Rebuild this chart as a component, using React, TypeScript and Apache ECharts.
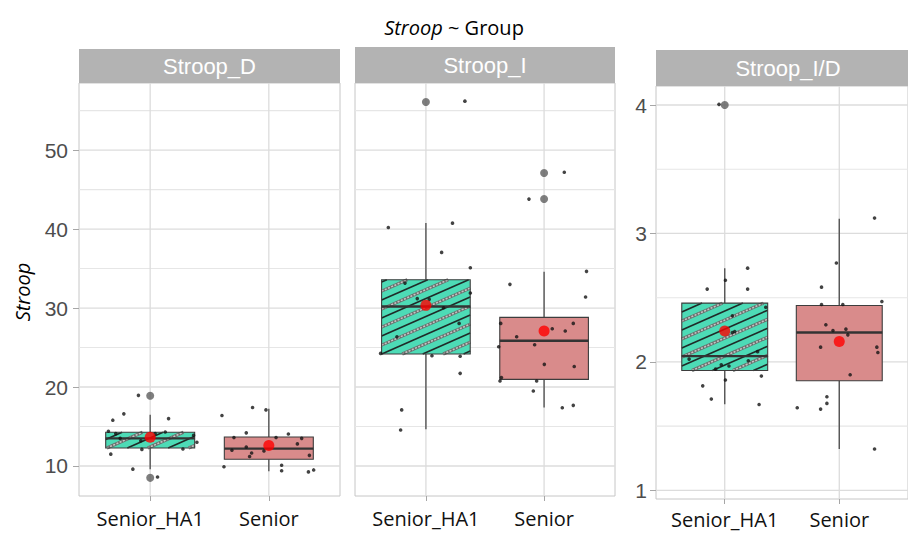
import React, { useEffect, useRef } from 'react';
import * as echarts from 'echarts';

const categories = ['Senior_HA1', 'Senior'];
const panelTitles = ['Stroop_D', 'Stroop_I', 'Stroop_I/D'];
const yAxisTitle = 'Stroop';
const plotTitleItalic = 'Stroop';
const plotTitleRest = ' ~ Group';

// box statistics: [lower whisker, Q1, median, Q3, upper whisker]
const boxStroopD_HA1 = [9.58, 12.28, 13.5, 14.27, 16.5];
const boxStroopD_Senior = [9.33, 10.85, 12.2, 13.67, 17.25];
const boxStroopI_HA1 = [14.65, 24.18, 30.2, 33.58, 40.76];
const boxStroopI_Senior = [17.42, 20.97, 25.86, 28.82, 34.6];
const boxStroopID_HA1 = [1.67, 1.933, 2.045, 2.458, 2.73];
const boxStroopID_Senior = [1.322, 1.853, 2.229, 2.439, 3.115];

// group means (red dots)
const meanStroopD = [13.63, 12.6];
const meanStroopI = [30.34, 27.1];
const meanStroopID = [2.24, 2.159];

// boxplot outliers
const outliersStroopD_HA1 = [18.9, 8.5];
const outliersStroopD_Senior: number[] = [];
const outliersStroopI_HA1 = [56.1];
const outliersStroopI_Senior = [47.1, 43.8];
const outliersStroopID_HA1 = [4.0];
const outliersStroopID_Senior: number[] = [];

// jittered observations: [horizontal jitter in category units, value]
const pointsStroopD_HA1 = [
  [-0.099, 18.95], [-0.222, 16.6], [-0.315, 15.8], [0.155, 16.0], [-0.352, 14.4],
  [-0.29, 14.1], [0.042, 14.1], [0.127, 14.3], [-0.079, 13.2], [0.394, 13.0],
  [-0.253, 13.5], [0.366, 13.9], [-0.07, 12.1], [0.276, 12.15], [-0.332, 11.5],
  [-0.146, 9.6], [0.062, 8.6],
];
const pointsStroopD_Senior = [
  [-0.137, 17.4], [-0.024, 17.1], [-0.395, 16.4], [-0.19, 14.2], [0.165, 14.05],
  [-0.294, 13.6], [0.061, 13.6], [0.277, 13.5], [0.241, 12.8], [-0.19, 12.4],
  [-0.311, 12.0], [-0.041, 11.9], [-0.145, 11.65], [-0.162, 11.2], [0.342, 11.35],
  [-0.378, 9.9], [0.108, 10.1], [0.108, 9.4], [0.334, 9.25], [0.378, 9.5],
];
const pointsStroopI_HA1 = [
  [0.33, 56.2], [0.225, 40.75], [-0.318, 40.2], [0.133, 37.05], [0.376, 35.1],
  [-0.177, 33.16], [-0.073, 31.2], [0.028, 31.1], [0.149, 30.04], [0.376, 31.9],
  [0.281, 28.06], [-0.245, 26.37], [-0.383, 24.26], [0.051, 23.96], [0.29, 23.9],
  [0.29, 21.73], [-0.205, 17.1], [-0.214, 14.56],
];
const pointsStroopI_Senior = [
  [0.171, 47.2], [-0.128, 43.8], [0.359, 34.65], [-0.289, 33.0], [0.351, 31.4],
  [-0.367, 28.06], [0.069, 27.38], [0.179, 27.1], [0.247, 28.06], [-0.232, 26.37],
  [-0.08, 25.35], [-0.384, 25.1], [0.002, 22.87], [0.255, 22.6], [-0.361, 21.2],
  [-0.373, 20.76], [-0.063, 20.76], [-0.091, 19.5], [0.154, 17.38], [0.247, 17.68],
];
const pointsStroopID_HA1 = [
  [-0.05, 4.005], [0.2, 2.73], [0.006, 2.636], [-0.153, 2.567], [0.2, 2.567],
  [0.358, 2.426], [0.067, 2.359], [0.067, 2.229], [0.087, 2.237], [-0.311, 2.022],
  [0.287, 2.08], [0.206, 2.009], [-0.08, 1.944], [-0.03, 1.978], [0.037, 1.968],
  [0.006, 1.859], [0.32, 1.89], [-0.192, 1.814], [-0.117, 1.711], [0.3, 1.669],
];
const pointsStroopID_Senior = [
  [0.308, 3.12], [-0.025, 2.77], [-0.155, 2.582], [-0.155, 2.447], [0.031, 2.447],
  [0.372, 2.47], [-0.117, 2.289], [-0.055, 2.245], [0.058, 2.255], [0.075, 2.211],
  [-0.163, 2.115], [0.328, 2.115], [0.337, 2.073], [0.095, 1.9], [-0.108, 1.729],
  [-0.108, 1.677], [-0.163, 1.633], [-0.367, 1.643], [0.308, 1.322],
];

// axis ticks
const ticksStroop = [10, 20, 30, 40, 50];
const minorTicksStroop = [15, 25, 35, 45, 55];
const ticksRatio = [1, 2, 3, 4];
const minorTicksRatio = [1.5, 2.5, 3.5];
const rangeStroop = [6.2, 58.5];
const rangeRatio = [0.933, 4.148];

const panels = [
  {
    boxes: [boxStroopD_HA1, boxStroopD_Senior], means: meanStroopD,
    outliers: [outliersStroopD_HA1, outliersStroopD_Senior],
    points: [pointsStroopD_HA1, pointsStroopD_Senior],
    ticks: ticksStroop, minor: minorTicksStroop, range: rangeStroop,
  },
  {
    boxes: [boxStroopI_HA1, boxStroopI_Senior], means: meanStroopI,
    outliers: [outliersStroopI_HA1, outliersStroopI_Senior],
    points: [pointsStroopI_HA1, pointsStroopI_Senior],
    ticks: ticksStroop, minor: minorTicksStroop, range: rangeStroop,
  },
  {
    boxes: [boxStroopID_HA1, boxStroopID_Senior], means: meanStroopID,
    outliers: [outliersStroopID_HA1, outliersStroopID_Senior],
    points: [pointsStroopID_HA1, pointsStroopID_Senior],
    ticks: ticksRatio, minor: minorTicksRatio, range: rangeRatio,
  },
];

const layout = [
  { left: 79, top: 83, width: 261, height: 413, stripTop: 49, showY: true, yMargin: 11, xMargin: 12 },
  { left: 355, top: 83, width: 260, height: 413, stripTop: 47, showY: false, yMargin: 11, xMargin: 12 },
  { left: 656, top: 86, width: 264, height: 413, stripTop: 50, showY: true, yMargin: 9, xMargin: 10 },
];

const boxFill = ['#4ddbb6', '#d98b8b'];

function stripeLines(x0: number, y0: number, w: number, h: number) {
  const x1 = x0 + w;
  const y1 = y0 + h;
  const s = 0.44;
  const step = 9;
  const kMin = y0 + s * x0;
  const kMax = y1 + s * x1;
  const out: any[] = [];
  for (let m = Math.ceil(kMin / step); m * step <= kMax; m++) {
    const k = m * step;
    const xa = Math.max(x0, (k - y1) / s);
    const xb = Math.min(x1, (k - y0) / s);
    if (xb - xa < 0.5) continue;
    const shape = { x1: xa, y1: k - s * xa, x2: xb, y2: k - s * xb };
    const dark = ((m % 2) + 2) % 2 === 0;
    if (dark) {
      out.push({ type: 'line', shape, style: { stroke: '#1f2b28', lineWidth: 1.6 } });
    } else {
      out.push({ type: 'line', shape, style: { stroke: '#6a6f6d', lineWidth: 3.2 } });
      out.push({ type: 'line', shape, style: { stroke: '#c4c4c4', lineWidth: 1.6, lineDash: [2, 1.5] } });
    }
  }
  return out;
}

export default function App() {
  const ref = useRef<HTMLDivElement>(null);
  useEffect(() => {
    if (!ref.current) return;
    const chart = echarts.init(ref.current, undefined, { renderer: 'svg' });

    const grid: any[] = [];
    const xAxis: any[] = [];
    const yAxis: any[] = [];
    const series: any[] = [];
    const graphic: any[] = [];

    panels.forEach((p, i) => {
      const L = layout[i];
      grid.push({
        left: L.left, top: L.top, width: L.width, height: L.height,
        show: true, backgroundColor: '#ffffff', borderColor: '#c6c6c6', borderWidth: 1,
      });
      xAxis.push({
        type: 'value', gridIndex: i, min: 0.4, max: 2.6,
        axisLine: { show: false },
        splitLine: { show: false },
        axisTick: { show: true, customValues: [1, 2], length: 5, lineStyle: { color: '#a6a6a6' } },
        axisLabel: {
          show: true, customValues: [1, 2], margin: L.xMargin,
          formatter: (v: number) => categories[Math.round(v) - 1] || '',
          fontSize: 20, fontFamily: 'Open Sans', color: '#111111',
        },
      });
      yAxis.push({
        type: 'value', gridIndex: i, min: p.range[0], max: p.range[1],
        axisLine: { show: false },
        splitLine: { show: false },
        axisTick: { show: L.showY, customValues: p.ticks, length: 6, lineStyle: { color: '#a6a6a6' } },
        axisLabel: {
          show: L.showY, customValues: p.ticks, margin: L.yMargin,
          fontSize: 21, fontFamily: 'Liberation Sans', color: '#4d4d4d',
        },
      });

      const midY = (p.range[0] + p.range[1]) / 2;
      const gridData: number[][] = [
        ...p.minor.map((v) => [1, v, 1]),
        ...p.ticks.map((v) => [1, v, 0]),
        ...[1, 2].map((c) => [c, midY, 2]),
      ];
      series.push({
        type: 'custom', xAxisIndex: i, yAxisIndex: i, z: 0, silent: true,
        data: gridData,
        renderItem: (params: any, api: any) => {
          const cs = params.coordSys;
          const t = api.value(2);
          const pt = api.coord([api.value(0), api.value(1)]);
          if (t === 2) {
            return { type: 'line', shape: { x1: pt[0], y1: cs.y, x2: pt[0], y2: cs.y + cs.height }, style: { stroke: '#dcdcdc', lineWidth: 1.3 } };
          }
          return {
            type: 'line', shape: { x1: cs.x, y1: pt[1], x2: cs.x + cs.width, y2: pt[1] },
            style: { stroke: t === 0 ? '#dcdcdc' : '#e6e6e6', lineWidth: t === 0 ? 1.3 : 1.1 },
          };
        },
      });

      series.push({
        type: 'custom', xAxisIndex: i, yAxisIndex: i, z: 2, silent: true,
        data: p.boxes.map((b, g) => [g + 1, ...b, g]),
        renderItem: (params: any, api: any) => {
          const x = api.value(0);
          const g = api.value(6);
          const pMin = api.coord([x, api.value(1)]);
          const pQ1 = api.coord([x, api.value(2)]);
          const pMed = api.coord([x, api.value(3)]);
          const pQ3 = api.coord([x, api.value(4)]);
          const pMax = api.coord([x, api.value(5)]);
          const half = api.size([0.75, 0])[0] / 2;
          const cx = pQ3[0];
          const rect = { x: cx - half, y: pQ3[1], width: half * 2, height: pQ1[1] - pQ3[1] };
          const children: any[] = [
            { type: 'line', shape: { x1: cx, y1: pMax[1], x2: cx, y2: pQ3[1] }, style: { stroke: '#555555', lineWidth: 1.4 } },
            { type: 'line', shape: { x1: cx, y1: pQ1[1], x2: cx, y2: pMin[1] }, style: { stroke: '#555555', lineWidth: 1.4 } },
            { type: 'rect', shape: rect, style: { fill: boxFill[g], stroke: 'none' } },
          ];
          if (g === 0) children.push(...stripeLines(rect.x, rect.y, rect.width, rect.height));
          children.push({ type: 'rect', shape: rect, style: { fill: 'none', stroke: '#3d3d3d', lineWidth: 1.1 } });
          children.push({ type: 'line', shape: { x1: cx - half, y1: pMed[1], x2: cx + half, y2: pMed[1] }, style: { stroke: '#333333', lineWidth: 2.4 } });
          return { type: 'group', children };
        },
      });

      series.push({
        type: 'scatter', xAxisIndex: i, yAxisIndex: i, z: 3, silent: true,
        symbol: 'circle', symbolSize: 8,
        itemStyle: { color: '#5e5e5e' },
        data: p.outliers.flatMap((arr, g) => arr.map((v) => [g + 1, v])),
      });
      series.push({
        type: 'scatter', xAxisIndex: i, yAxisIndex: i, z: 4, silent: true,
        symbol: 'circle', symbolSize: 3.6,
        itemStyle: { color: '#141414' },
        data: p.points.flatMap((arr, g) => arr.map(([dx, v]) => [g + 1 + dx, v])),
      });
      series.push({
        type: 'scatter', xAxisIndex: i, yAxisIndex: i, z: 5, silent: true,
        symbol: 'circle', symbolSize: 11,
        itemStyle: { color: '#ff0000' },
        data: p.means.map((v, g) => [g + 1, v]),
      });

      const stripH = L.top - L.stripTop;
      graphic.push({
        type: 'rect', silent: true,
        shape: { x: L.left, y: L.stripTop, width: L.width, height: stripH },
        style: { fill: '#b3b3b3' },
      });
      graphic.push({
        type: 'text', silent: true,
        x: L.left + L.width / 2, y: L.stripTop + stripH / 2,
        style: {
          text: panelTitles[i], fill: '#ffffff', fontSize: 22, fontFamily: 'Liberation Sans',
          align: 'center', verticalAlign: 'middle',
        },
      });
    });

    graphic.push({
      type: 'text', silent: true, x: 22, y: 292, rotation: Math.PI / 2,
      style: {
        text: yAxisTitle, fill: '#000000', fontSize: 20, fontStyle: 'italic', fontFamily: 'Open Sans',
        align: 'center', verticalAlign: 'middle',
      },
    });

    chart.setOption({
      animation: false,
      backgroundColor: '#ffffff',
      title: {
        text: `{i|${plotTitleItalic}}{n|${plotTitleRest}}`,
        left: 'center', top: 12,
        textStyle: {
          fontWeight: 'normal',
          rich: {
            i: { fontSize: 20, fontStyle: 'italic', fontWeight: 'normal', fontFamily: 'Open Sans', color: '#000' },
            n: { fontSize: 20, fontWeight: 'normal', fontFamily: 'Open Sans', color: '#000' },
          },
        },
      },
      grid, xAxis, yAxis, series, graphic,
    });
    return () => chart.dispose();
  }, []);
  return <div ref={ref} style={{ position: 'absolute', left: 0, top: 0, width: 908, height: 534 }} />;
}
